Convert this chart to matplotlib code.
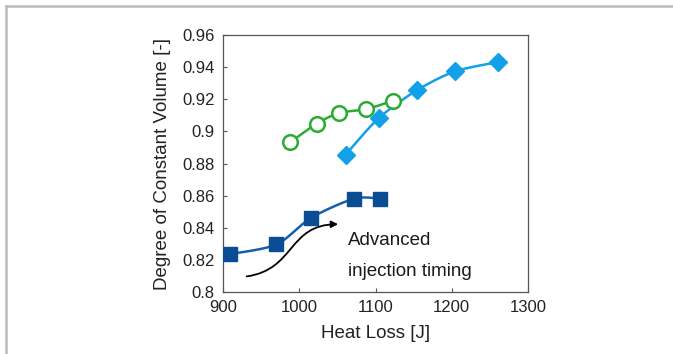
import numpy as np
import matplotlib.pyplot as plt
from matplotlib.path import Path
from matplotlib.patches import FancyArrowPatch
from matplotlib.lines import Line2D

plt.rcParams['font.family'] = ['Liberation Sans', 'DejaVu Sans']

# Data
green_x = [988, 1023, 1052, 1088, 1123]
green_y = [0.8932, 0.9048, 0.9114, 0.9139, 0.9191]

light_x = [1061, 1104, 1154, 1204, 1260]
light_y = [0.8856, 0.9081, 0.9255, 0.9373, 0.9431]

dark_x = [909, 970, 1016, 1072, 1106]
dark_y = [0.8236, 0.8296, 0.8463, 0.8581, 0.8581]

x_ticks = [900, 1000, 1100, 1200, 1300]
y_ticks = [0.8, 0.82, 0.84, 0.86, 0.88, 0.9, 0.92, 0.94, 0.96]
y_ticklabels = ['0.8', '0.82', '0.84', '0.86', '0.88', '0.9', '0.92', '0.94', '0.96']


def smooth(xs, ys, n=30, k=7.0):
    # Catmull-Rom style smoothing like spreadsheet "smoothed line"
    xs = np.asarray(xs, float)
    ys = np.asarray(ys, float)
    sx, sy = 400.0, 0.16
    P = np.column_stack([xs / sx, ys / sy])
    P = np.vstack([P[0], P, P[-1]])
    out = []
    for i in range(1, len(P) - 2):
        p0, p1, p2, p3 = P[i - 1], P[i], P[i + 1], P[i + 2]
        c1 = p1 + (p2 - p0) / k
        c2 = p2 - (p3 - p1) / k
        t = np.linspace(0, 1, n)[:, None]
        seg = ((1 - t) ** 3) * p1 + 3 * ((1 - t) ** 2) * t * c1 + 3 * (1 - t) * t ** 2 * c2 + t ** 3 * p2
        out.append(seg if i == 1 else seg[1:])
    out = np.vstack(out)
    return out[:, 0] * sx, out[:, 1] * sy


fig = plt.figure(figsize=(6.73, 3.54), dpi=100)
ax = fig.add_axes([223 / 673, 1 - 292 / 354, (528 - 223) / 673, (292 - 35) / 354])

green = '#2CAB33'
light = '#12A0E8'
dark_m = '#0B4D95'
dark_l = '#1560AD'

gx, gy = smooth(green_x, green_y)
ax.plot(gx, gy, color=green, lw=1.8, zorder=2)
ax.plot(green_x, green_y, 'o', ms=10.5, mfc='white', mec=green, mew=1.8, zorder=3)

lx, ly = smooth(light_x, light_y)
ax.plot(lx, ly, color=light, lw=1.8, zorder=2)
ax.plot(light_x, light_y, 'D', ms=9, color=light, zorder=3)

dx, dy = smooth(dark_x, dark_y)
ax.plot(dx, dy, color=dark_l, lw=1.8, zorder=2)
ax.plot(dark_x, dark_y, 's', ms=10, color=dark_m, zorder=3)

# curved arrow
verts = [(931, 0.8097), (995, 0.8140), (985, 0.8420), (1051, 0.8422)]
path = Path(verts, [Path.MOVETO, Path.CURVE4, Path.CURVE4, Path.CURVE4])
arrow = FancyArrowPatch(path=path, arrowstyle='-|>', mutation_scale=10, color='black', lw=1.3)
ax.add_patch(arrow)

ax.text(1064, 0.8318, 'Advanced', fontsize=13.5, color='#1a1a1a', va='center', ha='left')
ax.text(1064, 0.8126, 'injection timing', fontsize=13.5, color='#1a1a1a', va='center', ha='left')

ax.set_xlim(900, 1300)
ax.set_ylim(0.8, 0.96)
ax.set_xticks(x_ticks)
ax.set_yticks(y_ticks)
ax.set_yticklabels(y_ticklabels)
ax.tick_params(direction='in', length=3, width=0.8, color='#555555', labelsize=12, labelcolor='#222222', pad=6)
for s in ax.spines.values():
    s.set_color('#555555')
    s.set_linewidth(0.9)

ax.set_xlabel('Heat Loss [J]', fontsize=13.5, color='#222222', labelpad=7)
ax.set_ylabel('Degree of Constant Volume [-]', fontsize=13.5, color='#222222', labelpad=8)

# grey frame at top and left of the picture
fig.add_artist(Line2D([6 / 673, 1], [1 - 6 / 354, 1 - 6 / 354], transform=fig.transFigure, color='#bbbbbb', lw=1.8))
fig.add_artist(Line2D([6 / 673, 6 / 673], [0, 1 - 6 / 354], transform=fig.transFigure, color='#bbbbbb', lw=1.8))

fig.savefig('out.png', dpi=100)
